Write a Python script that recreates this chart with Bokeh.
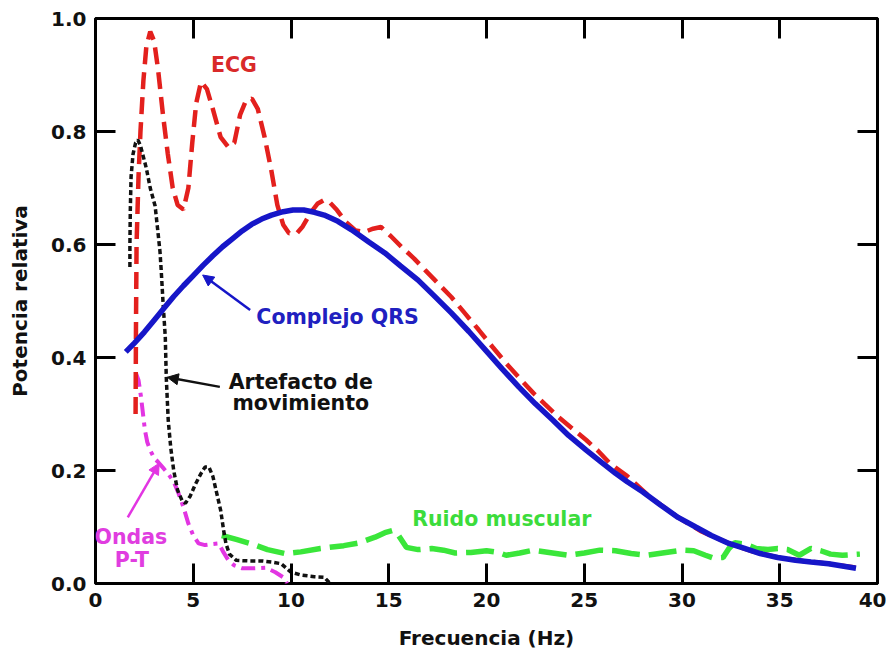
from bokeh.plotting import figure
from bokeh.models import (LinearAxis, Range1d, Label, Arrow, NormalHead,
                          FixedTicker, PrintfTickFormatter)
from bokeh.embed import file_html
from bokeh.resources import INLINE

# ---------------- data ----------------
x_ticks = [0, 5, 10, 15, 20, 25, 30, 35, 40]
y_ticks = [0.0, 0.2, 0.4, 0.6, 0.8, 1.0]

ecg_x = [2.05, 2.07, 2.1, 2.2, 2.3, 2.45, 2.6, 2.8, 3.0, 3.2, 3.45, 3.7, 3.95, 4.2, 4.5,
         4.75, 4.95, 5.15, 5.4, 5.7, 6.0, 6.4, 6.8, 7.1, 7.4, 7.7, 8.0, 8.3, 8.65, 9.0,
         9.3, 9.6, 9.9, 10.3, 10.6, 11.0, 11.35, 11.7, 12.0, 12.35, 12.8, 13.3, 13.75,
         14.2, 14.6, 15.1, 15.65, 16.3, 16.85, 17.5, 18.2, 18.9, 19.6, 20.3, 21.0, 21.7,
         22.4, 23.0, 23.7, 24.4, 25.1, 25.7, 26.3, 27.2, 28.4, 29.8, 31.0, 32.4, 33.6,
         34.9, 36.2, 37.5, 38.9]
ecg_y = [0.30, 0.45, 0.60, 0.72, 0.80, 0.89, 0.95, 0.977, 0.96, 0.91, 0.83, 0.76, 0.70,
         0.67, 0.662, 0.70, 0.78, 0.85, 0.888, 0.875, 0.84, 0.79, 0.772, 0.78, 0.83, 0.855,
         0.858, 0.84, 0.79, 0.73, 0.67, 0.635, 0.62, 0.62, 0.632, 0.656, 0.672, 0.679,
         0.674, 0.661, 0.64, 0.625, 0.622, 0.628, 0.631, 0.615, 0.596, 0.575, 0.555, 0.532,
         0.507, 0.478, 0.449, 0.419, 0.39, 0.363, 0.337, 0.317, 0.294, 0.274, 0.254, 0.235,
         0.213, 0.19, 0.152, 0.117, 0.092, 0.071, 0.057, 0.046, 0.04, 0.035, 0.028]

qrs_x = [1.55, 2.0, 2.5, 3.0, 3.5, 4.0, 4.5, 5.0, 5.5, 6.0, 6.5, 7.0, 7.5, 8.0, 8.5, 9.0,
         9.6, 10.1, 10.65, 11.2, 11.7, 12.4, 13.1, 14.0, 14.8, 15.6, 16.5, 17.3, 18.2,
         19.1, 19.95, 20.8, 21.65, 22.5, 23.4, 24.2, 25.1, 25.9, 26.6, 27.2, 28.0, 28.9,
         29.8, 30.7, 31.5, 32.4, 33.2, 34.0, 34.9, 35.8, 36.6, 37.5, 38.2, 38.9]
qrs_y = [0.41, 0.426, 0.445, 0.466, 0.487, 0.508, 0.527, 0.545, 0.563, 0.58, 0.596, 0.61,
         0.624, 0.636, 0.645, 0.652, 0.658, 0.661, 0.661, 0.657, 0.652, 0.641, 0.626,
         0.604, 0.585, 0.562, 0.537, 0.51, 0.479, 0.446, 0.413, 0.38, 0.348, 0.318, 0.289,
         0.262, 0.236, 0.214, 0.195, 0.18, 0.162, 0.139, 0.117, 0.1, 0.085, 0.071, 0.062,
         0.053, 0.046, 0.041, 0.038, 0.035, 0.031, 0.027]

mov_x = [1.76, 1.76, 1.78, 1.82, 1.92, 2.05, 2.17, 2.3, 2.45, 2.6, 2.8, 3.05, 3.2, 3.3,
         3.36, 3.45, 3.57, 3.62, 3.72, 3.85, 4.0, 4.2, 4.45, 4.6, 4.85, 5.1, 5.4, 5.6, 5.8,
         6.0, 6.2, 6.4, 6.55, 6.67, 6.85, 7.2, 7.8, 8.5, 9.0, 9.5, 10.0, 10.5, 11.2, 11.7,
         12.0]
mov_y = [0.56, 0.60, 0.66, 0.72, 0.76, 0.78, 0.785, 0.775, 0.755, 0.735, 0.70, 0.668, 0.62,
         0.587, 0.555, 0.50, 0.436, 0.365, 0.289, 0.24, 0.20, 0.165, 0.145, 0.142, 0.155,
         0.175, 0.195, 0.206, 0.206, 0.19, 0.16, 0.13, 0.095, 0.071, 0.052, 0.041, 0.04,
         0.04, 0.038, 0.035, 0.02, 0.015, 0.012, 0.011, 0.0]

pt_x = [2.07, 2.2, 2.33, 2.43, 2.53, 2.65, 2.8, 3.0, 3.2, 3.45, 3.7, 4.0, 4.24, 4.5, 4.75,
        5.0, 5.27, 5.6, 6.0, 6.3, 6.55, 6.8, 7.1, 7.5, 8.1, 8.7, 9.2, 9.6, 9.8]
pt_y = [0.372, 0.36, 0.33, 0.30, 0.271, 0.25, 0.236, 0.222, 0.215, 0.205, 0.195, 0.18,
        0.16, 0.135, 0.106, 0.085, 0.071, 0.068, 0.07, 0.071, 0.055, 0.041, 0.032, 0.027,
        0.027, 0.028, 0.02, 0.011, 0.0]

mus_x = [6.46, 7.2, 8.0, 8.8, 9.7, 10.5, 11.5, 12.7, 13.5, 14.3, 14.8, 15.2, 15.5, 15.9,
         16.5, 17.2, 17.8, 18.4, 19.2, 20.0, 20.6, 21.0, 21.7, 22.4, 23.2, 24.2, 25.0,
         25.8, 26.6, 27.4, 28.2, 29.0, 30.0, 30.6, 31.2, 31.6, 32.1, 32.4, 32.7, 33.2,
         33.8, 34.4, 34.9, 35.4, 36.0, 36.6, 37.1, 37.6, 38.2, 39.1]
mus_y = [0.085, 0.078, 0.07, 0.06, 0.053, 0.056, 0.062, 0.067, 0.072, 0.082, 0.09, 0.094,
         0.085, 0.064, 0.06, 0.062, 0.059, 0.054, 0.055, 0.058, 0.055, 0.05, 0.054, 0.059,
         0.055, 0.05, 0.054, 0.059, 0.058, 0.053, 0.05, 0.054, 0.059, 0.058, 0.05, 0.045,
         0.046, 0.062, 0.072, 0.07, 0.062, 0.06, 0.062, 0.06, 0.05, 0.062, 0.058, 0.052,
         0.05, 0.052]

# ---------------- figure ----------------
FONT = "DejaVu Sans"
RED, BLUE, BLACK, MAG, GREEN = "#e3201d", "#1616c8", "#111111", "#e235e2", "#3ae63a"

p = figure(width=886, height=654, x_range=Range1d(0, 40), y_range=Range1d(0, 1),
           output_backend="svg", toolbar_location=None,
           min_border_left=95, min_border_right=9, min_border_top=18, min_border_bottom=71)
p.grid.visible = False
p.outline_line_color = "black"
p.outline_line_width = 3
p.outline_line_alpha = 1.0
p.background_fill_color = "white"
p.border_fill_color = "white"

def style_axis(ax, labels=True):
    ax.axis_line_color = None
    ax.major_tick_in = 20
    ax.major_tick_out = 0
    ax.major_tick_line_width = 3
    ax.major_tick_line_color = "black"
    ax.minor_tick_line_color = None
    ax.major_label_text_font = FONT
    ax.major_label_text_font_style = "bold"
    if labels:
        ax.major_label_text_color = "#111111"
        ax.major_label_text_font_size = "20px"
        ax.major_label_standoff = 9
    else:
        ax.major_label_text_color = None
        ax.major_label_text_font_size = "1px"
        ax.major_label_standoff = 0
    ax.axis_label_text_font = FONT
    ax.axis_label_text_font_style = "bold"
    ax.axis_label_text_font_size = "20px"
    ax.axis_label_text_color = "#111111"

xb = p.xaxis[0]
xb.ticker = FixedTicker(ticks=x_ticks)
xb.axis_label = "Frecuencia (Hz)"
style_axis(xb)
xb.axis_label_standoff = 16

yl = p.yaxis[0]
yl.ticker = FixedTicker(ticks=y_ticks)
yl.formatter = PrintfTickFormatter(format="%.1f")
yl.axis_label = "Potencia relativa"
style_axis(yl)
yl.axis_label_standoff = 16

xt = LinearAxis(ticker=FixedTicker(ticks=x_ticks))
style_axis(xt, labels=False)
p.add_layout(xt, "above")
yr = LinearAxis(ticker=FixedTicker(ticks=y_ticks))
style_axis(yr, labels=False)
p.add_layout(yr, "right")

# ---------------- curves ----------------
p.line(mus_x, mus_y, line_color=GREEN, line_width=5.5, line_dash="28 9")
p.line(pt_x, pt_y, line_color=MAG, line_width=4, line_dash="14 6 4 6")
p.line(ecg_x, ecg_y, line_color=RED, line_width=4.5, line_dash="17 8")
p.line(mov_x, mov_y, line_color=BLACK, line_width=3.5, line_dash="5 3")
p.line(qrs_x, qrs_y, line_color=BLUE, line_width=5.5)

# ---------------- annotations ----------------
def lab(x, y, text, color, size="20.5px"):
    p.add_layout(Label(x=x, y=y, text=text, text_color=color, text_font=FONT,
                       text_font_style="bold", text_font_size=size,
                       text_align="center", text_baseline="middle"))

lab(7.08, 0.918, "ECG", "#d92a2a")
lab(12.38, 0.472, "Complejo QRS", "#2020c0")
lab(10.5, 0.356, "Artefacto de", "#111111")
lab(10.5, 0.319, "movimiento", "#111111")
lab(1.81, 0.082, "Ondas", "#e03de0")
lab(1.86, 0.041, "P-T", "#e03de0")
lab(20.78, 0.115, "Ruido muscular", "#3cdc3c")

def arrow(x0, y0, x1, y1, color):
    p.add_layout(Arrow(end=NormalHead(size=11, fill_color=color, line_color=color, line_width=1),
                       x_start=x0, y_start=y0, x_end=x1, y_end=y1,
                       line_color=color, line_width=2.5))

arrow(7.91, 0.484, 5.48, 0.546, BLUE)
arrow(6.36, 0.348, 3.67, 0.365, BLACK)
arrow(1.65, 0.117, 3.26, 0.213, MAG)

open("out.html", "w").write(file_html(p, INLINE))
